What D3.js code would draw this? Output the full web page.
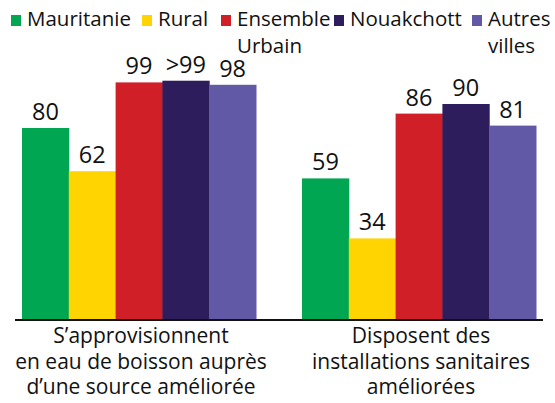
<!DOCTYPE html>
<html>
<head>
<meta charset="utf-8">
<script src="https://cdn.jsdelivr.net/npm/d3@7"></script>
<style>
  body { margin: 0; background: #fff; }
  svg { display: block; font-family: "Open Sans", sans-serif; }
</style>
</head>
<body>
<svg width="555" height="403"></svg>
<script>
// data
const groups = ['eau', 'sanitaires']
const groupLabels = [
  ['S\u2019approvisionnent', 'en eau de boisson auprès', 'd\u2019une source améliorée'],
  ['Disposent des', 'installations sanitaires', 'améliorées']
]
const series = ['Mauritanie', 'Rural', 'Ensemble Urbain', 'Nouakchott', 'Autres villes']
const legendLines = [['Mauritanie'], ['Rural'], ['Ensemble', 'Urbain'], ['Nouakchott'], ['Autres', 'villes']]
const colors = ['#00a651', '#ffd400', '#d01f27', '#2d1d5c', '#6158a6']
const valuesEau = [80, 62, 99, 99.7, 98]
const valuesSanitaires = [59, 34, 86, 90, 81]
const labelsEau = ['80', '62', '99', '>99', '98']
const labelsSanitaires = ['59', '34', '86', '90', '81']

const values = [valuesEau, valuesSanitaires]
const valueLabels = [labelsEau, labelsSanitaires]

const svg = d3.select('svg')
const baseY = 320

const x = d3.scaleBand()
  .domain(groups)
  .range([22, 536])
  .paddingInner(46 / 280)

const xs = d3.scaleBand()
  .domain(series)
  .range([0, x.bandwidth()])

const y = d3.scaleLinear()
  .domain([0, 100])
  .range([baseY, baseY - 240])

const color = d3.scaleOrdinal().domain(series).range(colors)

const rows = groups.map((g, gi) => series.map((s, si) => ({
  group: g, series: s, value: values[gi][si], label: valueLabels[gi][si]
})))

const gGroups = svg.append('g').attr('class', 'bars')
  .selectAll('g')
  .data(rows)
  .join('g')
  .attr('transform', (d, i) => `translate(${x(groups[i])},0)`)

gGroups.selectAll('rect')
  .data(d => d)
  .join('rect')
  .attr('x', d => xs(d.series))
  .attr('y', d => y(d.value))
  .attr('width', xs.bandwidth() + 0.5)
  .attr('height', d => y(0) - y(d.value))
  .attr('fill', d => color(d.series))

gGroups.selectAll('text')
  .data(d => d)
  .join('text')
  .attr('x', d => xs(d.series) + xs.bandwidth() / 2)
  .attr('y', d => y(d.value) - 8)
  .attr('text-anchor', 'middle')
  .attr('font-size', 23.5)
  .attr('fill', '#111')
  .text(d => d.label)

// axis line only
const xAxis = g => g
  .attr('transform', `translate(0,${baseY})`)
  .call(d3.axisBottom(x).tickSize(0).tickSizeOuter(0).tickFormat(''))
  .call(g => g.select('.domain')
    .attr('d', `M15,0H543`)
    .attr('stroke', '#111')
    .attr('stroke-width', 2))
svg.append('g').attr('class', 'x-axis').call(xAxis)

// category labels
svg.append('g').attr('class', 'cat-labels')
  .selectAll('text')
  .data(groups)
  .join('text')
  .attr('text-anchor', 'middle')
  .attr('font-size', 21)
  .attr('fill', '#111')
  .each(function (g, i) {
    const cx = x(g) + x.bandwidth() / 2 + 2
    d3.select(this).selectAll('tspan')
      .data(groupLabels[i])
      .join('tspan')
      .attr('x', cx)
      .attr('y', (d, j) => 343 + j * 25.5)
      .text(d => d)
  })

// legend
const legendX = [11, 142, 221, 334, 472]
const legend = svg.append('g').attr('class', 'legend')
  .selectAll('g')
  .data(series)
  .join('g')
  .attr('transform', (d, i) => `translate(${legendX[i]},0)`)

legend.append('rect')
  .attr('x', 0)
  .attr('y', 15)
  .attr('width', 10)
  .attr('height', 11)
  .attr('fill', d => color(d))

legend.append('text')
  .attr('font-size', 20.5)
  .attr('fill', '#111')
  .selectAll('tspan')
  .data((d, i) => legendLines[i])
  .join('tspan')
  .attr('x', 16)
  .attr('y', (d, j) => 26 + j * 27)
  .text(d => d)
</script>
</body>
</html>
